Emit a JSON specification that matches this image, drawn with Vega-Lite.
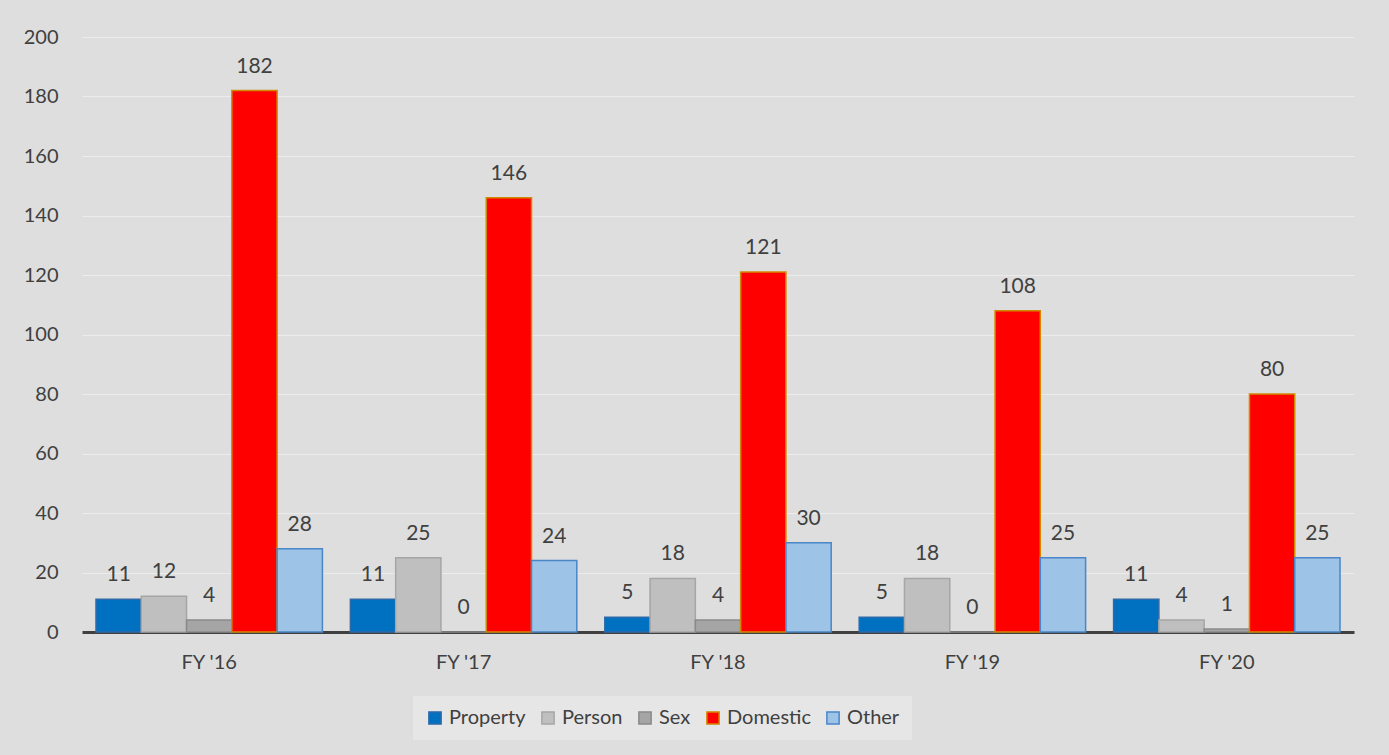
{
  "$schema": "https://vega.github.io/schema/vega-lite/v6.json",
  "width": 1272,
  "height": 595,
  "autosize": {"type": "none"},
  "padding": {"left": 82, "top": 37, "right": 35, "bottom": 123},
  "background": "#dedede",
  "config": {
    "view": {"stroke": null},
    "font": "Lato",
    "axis": {"labelColor": "#404040", "labelFontSize": 20, "labelFont": "Lato"}
  },
  "data": {
    "values": [
      {"year": "FY '16", "type": "Property", "value": 11},
      {"year": "FY '16", "type": "Person", "value": 12},
      {"year": "FY '16", "type": "Sex", "value": 4},
      {"year": "FY '16", "type": "Domestic", "value": 182},
      {"year": "FY '16", "type": "Other", "value": 28},
      {"year": "FY '17", "type": "Property", "value": 11},
      {"year": "FY '17", "type": "Person", "value": 25},
      {"year": "FY '17", "type": "Sex", "value": 0},
      {"year": "FY '17", "type": "Domestic", "value": 146},
      {"year": "FY '17", "type": "Other", "value": 24},
      {"year": "FY '18", "type": "Property", "value": 5},
      {"year": "FY '18", "type": "Person", "value": 18},
      {"year": "FY '18", "type": "Sex", "value": 4},
      {"year": "FY '18", "type": "Domestic", "value": 121},
      {"year": "FY '18", "type": "Other", "value": 30},
      {"year": "FY '19", "type": "Property", "value": 5},
      {"year": "FY '19", "type": "Person", "value": 18},
      {"year": "FY '19", "type": "Sex", "value": 0},
      {"year": "FY '19", "type": "Domestic", "value": 108},
      {"year": "FY '19", "type": "Other", "value": 25},
      {"year": "FY '20", "type": "Property", "value": 11},
      {"year": "FY '20", "type": "Person", "value": 4},
      {"year": "FY '20", "type": "Sex", "value": 1},
      {"year": "FY '20", "type": "Domestic", "value": 80},
      {"year": "FY '20", "type": "Other", "value": 25}
    ]
  },
  "encoding": {
    "x": {
      "field": "year", "type": "nominal", "sort": null,
      "scale": {"paddingInner": 0.11, "paddingOuter": 0.055},
      "axis": {"title": null, "labelAngle": 0, "ticks": false, "labelPadding": 20,
               "domainColor": "#404040", "domainWidth": 3, "labelFontSize": 20}
    },
    "xOffset": {
      "field": "type", "type": "nominal",
      "sort": ["Property", "Person", "Sex", "Domestic", "Other"],
      "scale": {"paddingInner": 0, "paddingOuter": 0}
    },
    "y": {
      "field": "value", "type": "quantitative",
      "scale": {"domain": [0, 200]},
      "axis": {"title": null, "values": [0,20,40,60,80,100,120,140,160,180,200],
               "labelOverlap": false,
               "ticks": false, "domain": false, "labelPadding": 24,
               "gridColor": "#f2f2f2", "gridOpacity": 0.7, "gridWidth": 1, "labelFontSize": 20}
    }
  },
  "layer": [
    {
      "mark": {"type": "bar", "strokeWidth": 1.5},
      "encoding": {
        "fill": {
          "field": "type", "type": "nominal",
          "sort": ["Property", "Person", "Sex", "Domestic", "Other"],
          "scale": {"domain": ["Property", "Person", "Sex", "Domestic", "Other"],
                    "range": ["#0070c0", "#bfbfbf", "#a5a5a5", "#ff0000", "#9dc3e6"]},
          "legend": {
            "title": null, "orient": "none", "direction": "horizontal",
            "legendX": 331, "legendY": 659,
            "fillColor": "#e6e6e6", "padding": 12,
            "symbolType": "square", "symbolSize": 150, "symbolStrokeWidth": 1.5,
            "labelFontSize": 20, "labelColor": "#404040", "labelFont": "Lato",
            "columnPadding": 12, "labelOffset": 4
          }
        },
        "stroke": {
          "field": "type", "type": "nominal",
          "sort": ["Property", "Person", "Sex", "Domestic", "Other"],
          "scale": {"domain": ["Property", "Person", "Sex", "Domestic", "Other"],
                    "range": ["#2f6aa8", "#a6a6a6", "#8a8a8a", "#d08a00", "#4a86c8"]},
          "legend": null
        }
      }
    },
    {
      "mark": {"type": "text", "baseline": "bottom", "dy": -14, "fontSize": 21, "color": "#404040", "font": "Lato"},
      "encoding": {"text": {"field": "value", "type": "quantitative"}}
    }
  ]
}
